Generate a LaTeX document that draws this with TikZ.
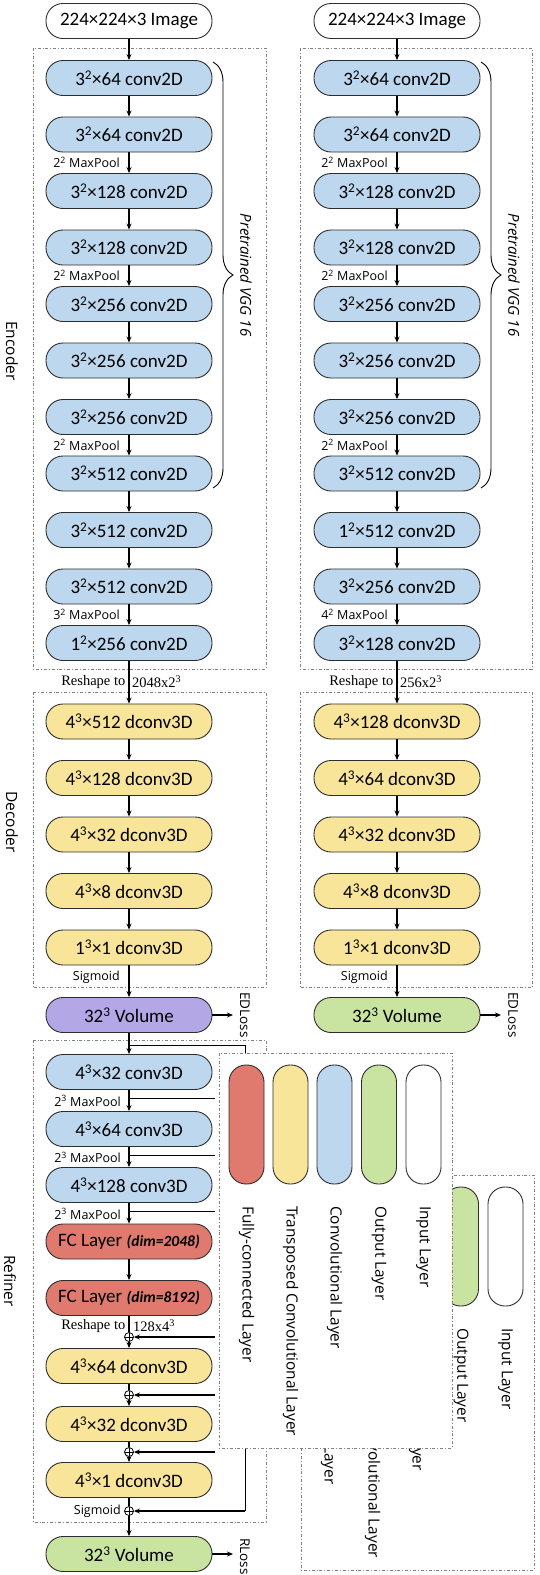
\documentclass[tikz,border=0pt]{standalone}
\usepackage{fontspec}
\setmainfont{Carlito}
\newfontfamily\osans{Open Sans}
\newfontfamily\tserif{Liberation Serif}
\usetikzlibrary{arrows.meta,decorations.pathreplacing}
\newcommand{\myup}[1]{\textsuperscript{#1}}
\definecolor{convblue}{RGB}{189,215,238}
\definecolor{dconvyel}{RGB}{248,229,154}
\definecolor{fcred}{RGB}{224,122,110}
\definecolor{volpur}{RGB}{180,167,229}
\definecolor{outgrn}{RGB}{201,228,160}
\definecolor{edgegray}{RGB}{45,45,45}
\definecolor{boxgray}{RGB}{130,130,130}
\newcommand{\legendblock}[3]{%
\begin{scope}[shift={(#2,#3)}]
  \draw[grp,fill=white] (219,1053) rectangle (452,1448);
  \node[pill,fill=fcred] (#1fc) at (246.5,1124.5) {};
  \node[pill,fill=dconvyel] (#1dc) at (290.5,1124.5) {};
  \node[pill,fill=convblue] (#1cv) at (334.5,1124.5) {};
  \node[pill,fill=outgrn] (#1op) at (379,1124.5) {};
  \node[pill,fill=white] (#1ip) at (423.5,1124.5) {};
  \node[legtxt] (#1tfc) at (246.5,1206) {Fully-connected Layer};
  \node[legtxt] (#1tdc) at (290.5,1206) {Transposed Convolutional Layer};
  \node[legtxt] (#1tcv) at (334.5,1206) {Convolutional Layer};
  \node[legtxt] (#1top) at (379,1206) {Output Layer};
  \node[legtxt] (#1tip) at (423.5,1206) {Input Layer};
\end{scope}}
\begin{document}
\begin{tikzpicture}[x=1pt,y=-1pt,
  layer/.style={draw=edgegray,line width=0.9pt,rounded corners=17pt,minimum width=166pt,minimum height=35pt,inner sep=0pt,font=\fontsize{19}{21}\selectfont},
  conv/.style={layer,fill=convblue},
  dconv/.style={layer,fill=dconvyel},
  fc/.style={layer,fill=fcred},
  inp/.style={layer,fill=white},
  vol/.style={layer,fill=volpur},
  outp/.style={layer,fill=outgrn},
  pill/.style={draw=edgegray,line width=0.9pt,rounded corners=17pt,minimum width=35pt,minimum height=119pt,inner sep=0pt},
  legtxt/.style={font=\osans\fontsize{15.4}{17}\selectfont,rotate=-90,anchor=west,inner sep=0pt},
  flow/.style={-{Stealth[length=6pt,width=5pt]},line width=1.1pt,black},
  plain/.style={line width=1.1pt,black},
  branch/.style={line width=0.8pt,black},
  skip/.style={-{Stealth[length=6pt,width=5pt]},line width=1.5pt,black},
  grp/.style={draw=boxgray,line width=0.7pt,dash pattern=on 3pt off 2pt on 0.8pt off 2pt},
  lbl/.style={font=\osans\fontsize{12.5}{14}\selectfont,inner sep=0pt},
  rlbl/.style={font=\tserif\fontsize{14.5}{16}\selectfont,inner sep=0pt},
  side/.style={font=\osans\fontsize{15.5}{17}\selectfont,rotate=-90,inner sep=0pt},
  vgg/.style={font=\osans\itshape\fontsize{15}{17}\selectfont,rotate=-90,inner sep=0pt},
  loss/.style={font=\osans\fontsize{13.5}{15}\selectfont,rotate=-90,anchor=west,inner sep=0pt},
  oplus/.style={circle,draw=black,line width=0.8pt,minimum size=9pt,inner sep=0pt,fill=white,
    path picture={\draw[line width=0.8pt] (path picture bounding box.north) -- (path picture bounding box.south) (path picture bounding box.west) -- (path picture bounding box.east);}},
  fcdim/.style={}
]
\useasboundingbox (0,0) rectangle (540,1575);
\fill[white] (0,0) rectangle (540,1575);

% ---------- group boxes ----------
\draw[grp] (33,48) rectangle (266,669);
\draw[grp] (300,48) rectangle (532,669);
\draw[grp] (33,692) rectangle (266,987);
\draw[grp] (300,692) rectangle (532,987);

% ---------- second (partly hidden) legend ----------
\legendblock{lgb}{82}{122}

% refiner box
\draw[grp] (33,1040) rectangle (266,1522);

% ---------- LEFT COLUMN ----------
\node[inp] (iL) at (129,21) {224×224×3 Image};
\node[conv] (eL0) at (129,78) {3\myup{2}×64 conv2D};
\node[conv] (eL1) at (129,134.5) {3\myup{2}×64 conv2D};
\node[conv] (eL2) at (129,191) {3\myup{2}×128 conv2D};
\node[conv] (eL3) at (129,247.5) {3\myup{2}×128 conv2D};
\node[conv] (eL4) at (129,304) {3\myup{2}×256 conv2D};
\node[conv] (eL5) at (129,360.5) {3\myup{2}×256 conv2D};
\node[conv] (eL6) at (129,417) {3\myup{2}×256 conv2D};
\node[conv] (eL7) at (129,473.5) {3\myup{2}×512 conv2D};
\node[conv] (eL8) at (129,530) {3\myup{2}×512 conv2D};
\node[conv] (eL9) at (129,586.5) {3\myup{2}×512 conv2D};
\node[conv] (eL10) at (129,643) {1\myup{2}×256 conv2D};

\node[dconv] (dL0) at (129,721.5) {4\myup{3}×512 dconv3D};
\node[dconv] (dL1) at (129,778) {4\myup{3}×128 dconv3D};
\node[dconv] (dL2) at (129,834.5) {4\myup{3}×32 dconv3D};
\node[dconv] (dL3) at (129,891) {4\myup{3}×8 dconv3D};
\node[dconv] (dL4) at (129,947.5) {1\myup{3}×1 dconv3D};
\node[vol] (vL) at (129,1015) {32\myup{3} Volume};

\foreach \a/\b in {iL/eL0,eL0/eL1,eL1/eL2,eL2/eL3,eL3/eL4,eL4/eL5,eL5/eL6,eL6/eL7,eL7/eL8,eL8/eL9,eL9/eL10,eL10/dL0,dL0/dL1,dL1/dL2,dL2/dL3,dL3/dL4,dL4/vL}
  \draw[flow] (\a.south) -- (\b.north);

\node[lbl,anchor=east] (mpL1) at (120,162.5) {2\myup{2} MaxPool};
\node[lbl,anchor=east] (mpL2) at (120,275.5) {2\myup{2} MaxPool};
\node[lbl,anchor=east] (mpL3) at (120,445) {2\myup{2} MaxPool};
\node[lbl,anchor=east] (mpL4) at (120,614.5) {3\myup{2} MaxPool};
\node[rlbl,anchor=east] (rsL1) at (125.5,682) {Reshape to};
\node[rlbl,anchor=west] (rsL2) at (132,682) {2048x2\myup{3}};
\node[lbl,anchor=east] (sgL) at (120,977) {Sigmoid};

\draw[decorate,decoration={brace,amplitude=20pt},line width=0.9pt] (213,62) -- (213,488);
\node[vgg] (vggL) at (246,275) {Pretrained VGG 16};
\node[side] (encL) at (12,351) {Encoder};
\node[side] (decL) at (12,822) {Decoder};
\node[side] (refL) at (10,1281) {Refiner};

\coordinate (edLe) at (233,1015);
\draw[flow] (vL.east) -- (edLe);
\node[loss] (edL) at (245,992) {EDLoss};

% ---------- RIGHT COLUMN ----------
\node[inp] (iR) at (397,21) {224×224×3 Image};
\node[conv] (eR0) at (397,78) {3\myup{2}×64 conv2D};
\node[conv] (eR1) at (397,134.5) {3\myup{2}×64 conv2D};
\node[conv] (eR2) at (397,191) {3\myup{2}×128 conv2D};
\node[conv] (eR3) at (397,247.5) {3\myup{2}×128 conv2D};
\node[conv] (eR4) at (397,304) {3\myup{2}×256 conv2D};
\node[conv] (eR5) at (397,360.5) {3\myup{2}×256 conv2D};
\node[conv] (eR6) at (397,417) {3\myup{2}×256 conv2D};
\node[conv] (eR7) at (397,473.5) {3\myup{2}×512 conv2D};
\node[conv] (eR8) at (397,530) {1\myup{2}×512 conv2D};
\node[conv] (eR9) at (397,586.5) {3\myup{2}×256 conv2D};
\node[conv] (eR10) at (397,643) {3\myup{2}×128 conv2D};

\node[dconv] (dR0) at (397,721.5) {4\myup{3}×128 dconv3D};
\node[dconv] (dR1) at (397,778) {4\myup{3}×64 dconv3D};
\node[dconv] (dR2) at (397,834.5) {4\myup{3}×32 dconv3D};
\node[dconv] (dR3) at (397,891) {4\myup{3}×8 dconv3D};
\node[dconv] (dR4) at (397,947.5) {1\myup{3}×1 dconv3D};
\node[outp] (vR) at (397,1015) {32\myup{3} Volume};

\foreach \a/\b in {iR/eR0,eR0/eR1,eR1/eR2,eR2/eR3,eR3/eR4,eR4/eR5,eR5/eR6,eR6/eR7,eR7/eR8,eR8/eR9,eR9/eR10,eR10/dR0,dR0/dR1,dR1/dR2,dR2/dR3,dR3/dR4,dR4/vR}
  \draw[flow] (\a.south) -- (\b.north);

\node[lbl,anchor=east] (mpR1) at (388,162.5) {2\myup{2} MaxPool};
\node[lbl,anchor=east] (mpR2) at (388,275.5) {2\myup{2} MaxPool};
\node[lbl,anchor=east] (mpR3) at (388,445) {2\myup{2} MaxPool};
\node[lbl,anchor=east] (mpR4) at (388,614.5) {4\myup{2} MaxPool};
\node[rlbl,anchor=east] (rsR1) at (393.5,682) {Reshape to};
\node[rlbl,anchor=west] (rsR2) at (400,682) {256x2\myup{3}};
\node[lbl,anchor=east] (sgR) at (388,977) {Sigmoid};

\draw[decorate,decoration={brace,amplitude=20pt},line width=0.9pt] (481,62) -- (481,488);
\node[vgg] (vggR) at (514,275) {Pretrained VGG 16};

\coordinate (edRe) at (501,1015);
\draw[flow] (vR.east) -- (edRe);
\node[loss] (edR) at (513,992) {EDLoss};

% ---------- REFINER ----------
\node[conv] (r1) at (129,1072) {4\myup{3}×32 conv3D};
\node[conv] (r2) at (129,1129) {4\myup{3}×64 conv3D};
\node[conv] (r3) at (129,1185) {4\myup{3}×128 conv3D};
\node[fc] (r4) at (129,1241.5) {FC Layer {\fontsize{15.5}{17}\selectfont\bfseries\itshape (dim=2048)}};
\node[fc] (r5) at (129,1298) {FC Layer {\fontsize{15.5}{17}\selectfont\bfseries\itshape (dim=8192)}};
\node[dconv] (r6) at (129,1366) {4\myup{3}×64 dconv3D};
\node[dconv] (r7) at (129,1424) {4\myup{3}×32 dconv3D};
\node[dconv] (r8) at (129,1480) {4\myup{3}×1 dconv3D};
\node[outp] (rout) at (129,1554) {32\myup{3} Volume};

\node[oplus] (op1) at (129,1337) {};
\node[oplus] (op2) at (129,1395) {};
\node[oplus] (op3) at (129,1452) {};
\node[oplus] (op4) at (129,1511) {};

\draw[flow] (vL.south) -- (r1.north);
\draw[flow] (r1.south) -- (r2.north);
\draw[flow] (r2.south) -- (r3.north);
\draw[flow] (r3.south) -- (r4.north);
\draw[flow] (r4.south) -- (r5.north);
\draw[plain] (r5.south) -- (op1.north);
\draw[flow] (op1.south) -- (r6.north);
\draw[plain] (r6.south) -- (op2.north);
\draw[flow] (op2.south) -- (r7.north);
\draw[plain] (r7.south) -- (op3.north);
\draw[flow] (op3.south) -- (r8.north);
\draw[plain] (r8.south) -- (op4.north);
\draw[flow] (op4.south) -- (rout.north);

\node[lbl,anchor=east] (mpF1) at (121,1101) {2\myup{3} MaxPool};
\node[lbl,anchor=east] (mpF2) at (121,1157.5) {2\myup{3} MaxPool};
\node[lbl,anchor=east] (mpF3) at (121,1214) {2\myup{3} MaxPool};
\node[rlbl,anchor=east] (rsF1) at (125.5,1326) {Reshape to};
\node[rlbl,anchor=west] (rsF2) at (133,1326) {128x4\myup{3}};
\node[lbl,anchor=east] (sgF) at (121,1511) {Sigmoid};

% skip connections
\coordinate (b0) at (129,1045);
\coordinate (b1) at (129,1098);
\coordinate (b2) at (129,1155);
\coordinate (b3) at (129,1211);
\coordinate (b1e) at (215,1098);
\coordinate (b2e) at (215,1155);
\coordinate (b3e) at (215,1211);
\coordinate (k1) at (215,1337);
\coordinate (k2) at (215,1395);
\coordinate (k3) at (215,1452);
\draw[branch] (b0) -- (245,1045) -- (245,1511);
\draw[skip] (245,1511) -- (op4.east);
\draw[branch] (b1) -- (b1e);
\draw[branch] (b2) -- (b2e);
\draw[branch] (b3) -- (b3e);
\draw[skip] (k1) -- (op1.east);
\draw[skip] (k2) -- (op2.east);
\draw[skip] (k3) -- (op3.east);

\coordinate (rlE) at (233,1554);
\draw[flow] (rout.east) -- (rlE);
\node[loss] (rl) at (245,1538) {RLoss};

% ---------- front legend ----------
\legendblock{lga}{0}{0}
\end{tikzpicture}
\end{document}
